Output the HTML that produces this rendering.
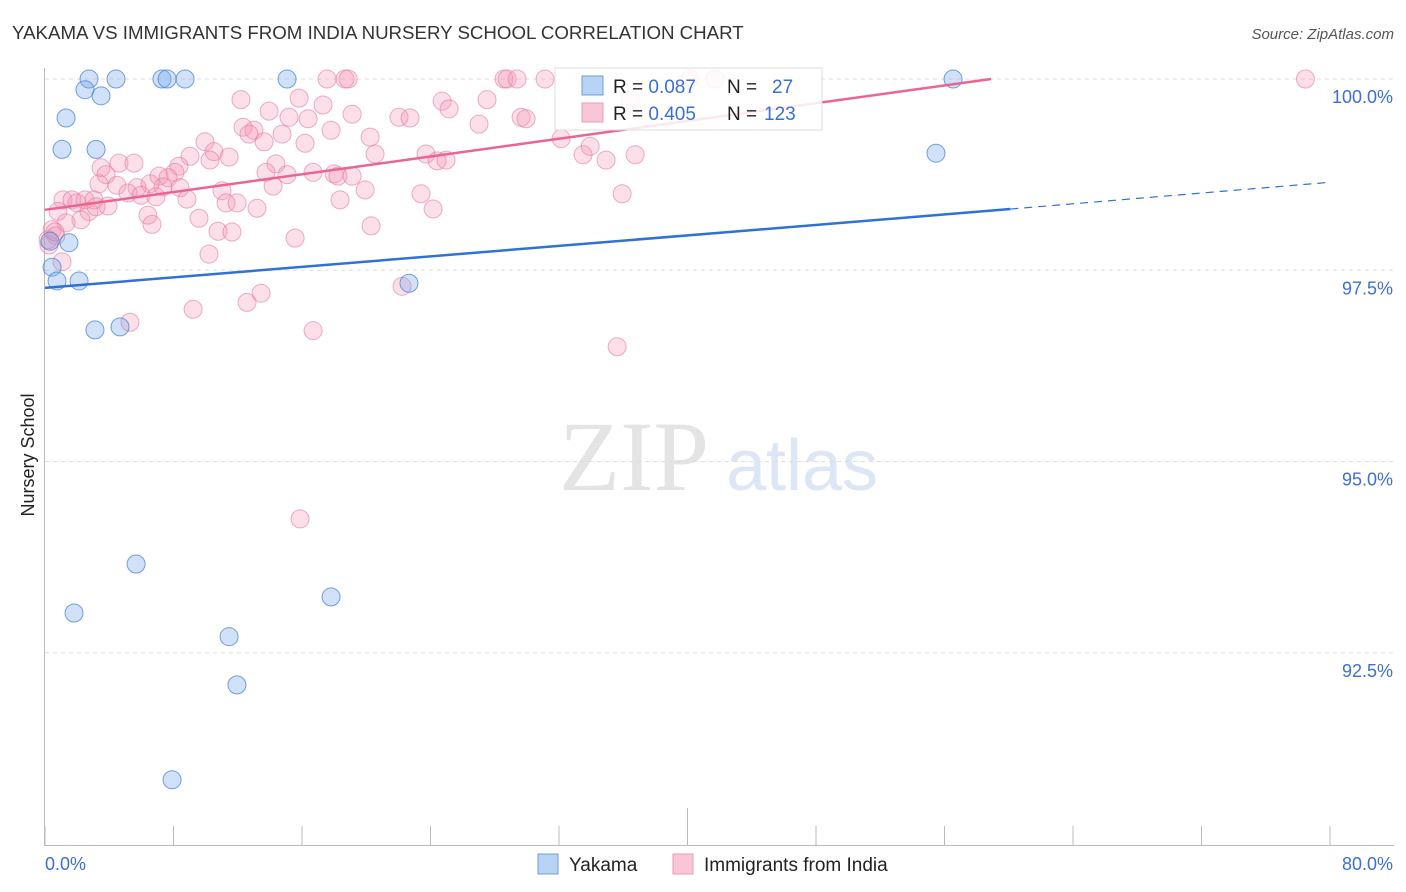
<!DOCTYPE html>
<html><head><meta charset="utf-8"><style>
body{margin:0;background:#fff;font-family:"Liberation Sans",sans-serif}
svg{display:block}
</style></head><body>
<svg id="chart" width="1406" height="892">
<text x="12" y="39" font-size="18.7" fill="#333">YAKAMA VS IMMIGRANTS FROM INDIA NURSERY SCHOOL CORRELATION CHART</text>
<text x="1394" y="39" font-size="15" fill="#555" font-style="italic" text-anchor="end">Source: ZipAtlas.com</text>
<text x="34" y="455" font-size="18" fill="#222" text-anchor="middle" transform="rotate(-90 34 455)">Nursery School</text>
<g><text x="634" y="490" font-size="100" fill="#e4e4e4" font-family="Liberation Serif,serif" text-anchor="middle">ZIP</text><text x="802" y="490" font-size="72" fill="#dce6f4" text-anchor="middle">atlas</text></g>
<g id="grid"></g><g id="axes"></g><g id="pts"></g><g id="lines"></g>
<g>
<rect x="555" y="68" width="267" height="62" fill="#fff" fill-opacity="0.85" stroke="#ddd"/>
<rect x="582" y="76" width="21" height="19" fill="#b8d3f3" stroke="#6d9ee0"/>
<rect x="582" y="103" width="21" height="19" fill="#f9c6d6" stroke="#e99ab5"/>
<text x="613" y="93" font-size="19" fill="#222">R = <tspan fill="#3b6fd4">0.087</tspan><tspan x="727">N =</tspan><tspan x="772" fill="#3b6fd4">27</tspan></text>
<text x="613" y="120" font-size="19" fill="#222">R = <tspan fill="#3b6fd4">0.405</tspan><tspan x="727">N =</tspan><tspan x="764" fill="#3b6fd4">123</tspan></text>
</g>
<g>
<rect x="538" y="854" width="20" height="20" fill="#b8d3f3" stroke="#6d9ee0"/>
<text x="569" y="871" font-size="19" fill="#222">Yakama</text>
<rect x="673" y="854" width="20" height="20" fill="#f9c6d6" stroke="#e99ab5"/>
<text x="704" y="871" font-size="19" fill="#222">Immigrants from India</text>
</g>
</svg>
<script>
const yTicks=[100,97.5,95,92.5];
const yTickLabels=["100.0%","97.5%","95.0%","92.5%"];
const xTickVals=[0,8,16,24,32,40,48,56,64,72,80];
const xEndLabels=["0.0%","80.0%"];
const yakamaX=[2.74,4.42,7.28,7.60,8.72,15.07,56.53,2.49,3.49,1.31,1.06,3.18,55.47,1.49,0.31,0.44,0.75,2.12,22.66,3.11,4.67,5.67,1.81,17.81,11.46,11.95,7.91];
const yakamaY=[100,100,100,100,100,100,100,99.86,99.78,99.49,99.08,99.08,99.03,97.86,97.88,97.54,97.36,97.36,97.33,96.72,96.76,93.66,93.02,93.23,92.71,92.08,90.84];
const indiaX=[17.56,18.68,18.87,28.58,28.77,29.39,31.13,40.16,41.72,78.47,12.20,15.82,17.31,19.12,13.95,24.72,25.16,27.52,29.64,29.95,22.04,22.73,27.02,12.33,13.01,17.81,12.70,14.76,16.38,15.19,20.24,9.96,13.64,16.19,32.13,33.50,33.94,34.93,36.74,10.52,9.03,11.46,10.27,14.38,20.55,23.72,24.41,24.97,4.61,5.54,3.49,3.80,8.34,8.09,7.10,7.66,13.76,15.07,16.69,18.00,18.24,19.12,3.36,4.48,5.73,7.35,8.41,6.54,14.20,19.93,11.02,5.17,5.98,6.91,1.12,1.68,2.49,3.05,1.99,3.92,8.84,11.27,11.96,18.37,23.41,35.93,0.81,2.74,3.18,13.20,24.16,6.41,9.59,2.24,6.66,1.31,10.77,11.64,20.30,0.44,0.68,0.25,1.06,15.57,10.21,9.22,12.58,13.45,16.69,5.29,22.23,35.62,15.88,0.19,0.62,36.43];
const indiaY=[100,100,100,100,100,100,100,100,100,100,99.73,99.75,99.66,99.54,99.58,99.71,99.61,99.73,99.50,99.48,99.50,99.49,99.41,99.37,99.33,99.33,99.28,99.28,99.48,99.50,99.24,99.18,99.18,99.16,99.22,99.01,99.12,98.94,99.01,99.05,98.99,98.98,98.94,98.89,99.02,99.02,98.93,98.94,98.90,98.90,98.84,98.75,98.86,98.78,98.73,98.71,98.78,98.75,98.78,98.76,98.73,98.73,98.63,98.61,98.58,98.59,98.58,98.63,98.60,98.55,98.54,98.51,98.48,98.46,98.42,98.42,98.42,98.42,98.38,98.34,98.43,98.38,98.38,98.42,98.50,98.50,98.27,98.27,98.33,98.31,98.30,98.22,98.18,98.16,98.10,98.12,98.01,98.00,98.08,98.03,97.95,97.83,97.61,97.92,97.71,96.99,97.08,97.20,96.71,96.82,97.29,96.50,94.25,97.90,98.00,99.73];
const yakamaTrend=[0,97.27,60.1,98.30,80,98.65];
const indiaTrend=[0,98.29,58.9,100];
const NS="http://www.w3.org/2000/svg";
const X=v=>45+v/80*1285;
const Y=v=>79+(100-v)*76.5;
function mk(t,a,p){const e=document.createElementNS(NS,t);for(const k in a)e.setAttribute(k,a[k]);p.appendChild(e);return e;}
const grid=document.getElementById('grid'),axes=document.getElementById('axes'),pts=document.getElementById('pts'),lines=document.getElementById('lines');
yTicks.forEach((v,i)=>{
 const l=mk('line',{x1:45,x2:1394,y1:Y(v),y2:Y(v),stroke:'#ddd','stroke-dasharray':'4 4'},grid);
 
 
 const t=mk('text',{x:1393,y:Y(v)+24,'font-size':18,fill:'#3b6fd4','text-anchor':'end'},grid);
 t.textContent=yTickLabels[i];
 
 
});
const ya=mk('line',{x1:44.5,x2:44.5,y1:68,y2:845,stroke:'#bbb'},axes);


const xa=mk('line',{x1:44,x2:1394,y1:845.5,y2:845.5,stroke:'#bbb'},axes);


xTickVals.forEach(v=>{
 const tk=mk('line',{x1:X(v),x2:X(v),y1:v===40?808:826,y2:845,stroke:'#bbb'},axes);
 
 
});
[[0,'start',45],[80,'end',1393]].forEach((d,i)=>{
 const t=mk('text',{x:d[2],y:870,'font-size':18,fill:'#3b6fd4','text-anchor':d[1]},axes);
 t.textContent=xEndLabels[i];
 
 
});
indiaX.forEach((v,i)=>{
 const c=mk('circle',{cx:X(v),cy:Y(indiaY[i]),r:9,fill:'rgba(244,150,180,0.3)',stroke:'rgba(228,120,155,0.6)','stroke-width':1},pts);
 
 
});
yakamaX.forEach((v,i)=>{
 const c=mk('circle',{cx:X(v),cy:Y(yakamaY[i]),r:9,fill:'rgba(120,170,235,0.35)',stroke:'rgba(70,130,215,0.75)','stroke-width':1},pts);
 
 
});
const il=mk('line',{x1:X(indiaTrend[0]),y1:Y(indiaTrend[1]),x2:X(indiaTrend[2]),y2:Y(indiaTrend[3]),stroke:'#e8668f','stroke-width':2.5},lines);


const yl=mk('line',{x1:X(yakamaTrend[0]),y1:Y(yakamaTrend[1]),x2:X(yakamaTrend[2]),y2:Y(yakamaTrend[3]),stroke:'#2f72d6','stroke-width':2.5},lines);


const yd=mk('line',{x1:X(yakamaTrend[2]),y1:Y(yakamaTrend[3]),x2:X(yakamaTrend[4]),y2:Y(yakamaTrend[5]),stroke:'#2f72d6','stroke-width':1.2,'stroke-dasharray':'8 6'},lines);


</script>
</body></html>
